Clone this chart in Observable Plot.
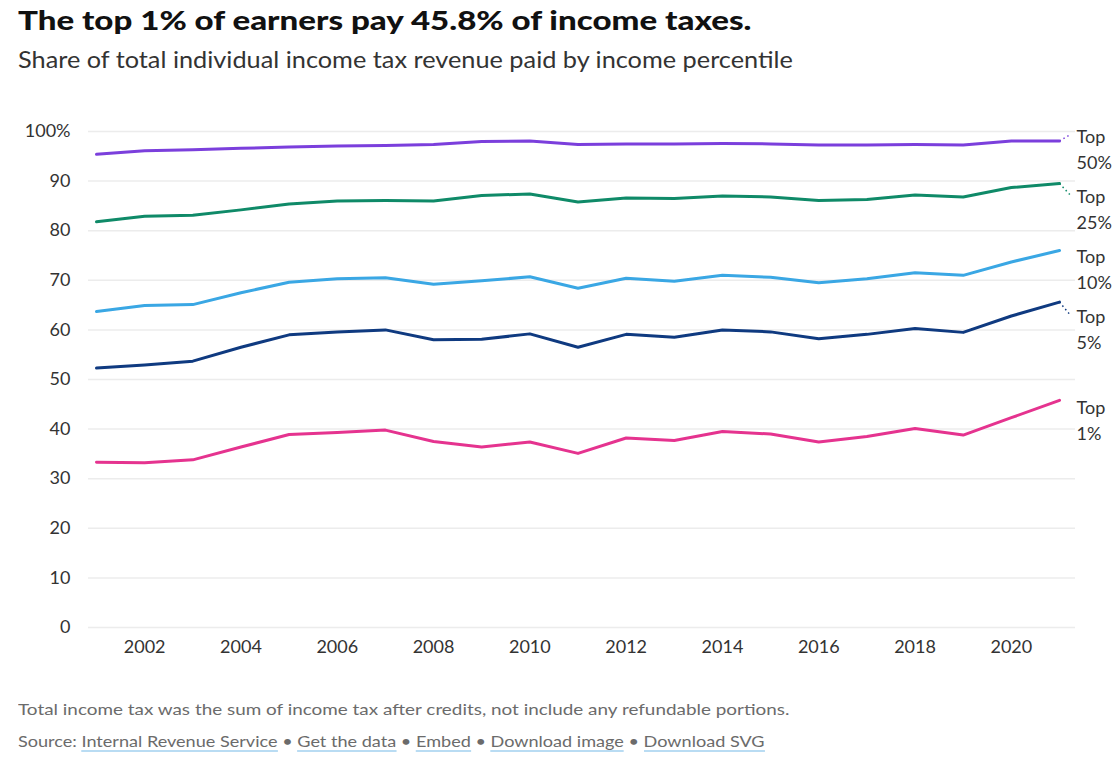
<!DOCTYPE html>
<html>
<head>
<meta charset="utf-8">
<script src="https://cdn.jsdelivr.net/npm/d3@7"></script>
<script src="https://cdn.jsdelivr.net/npm/@observablehq/plot@0.6"></script>
<style>
  html, body { margin: 0; padding: 0; background: #fff; }
  body { width: 1120px; height: 762px; position: relative; overflow: hidden; font-family: Lato, "Open Sans", sans-serif; }
  .line { position: absolute; left: 18px; white-space: nowrap; transform-origin: 0 50%; }
  #title { top: 3px; font-size: 27px; font-weight: 900; color: #111; transform: scaleX(1.225); }
  #subtitle { top: 45px; font-size: 23px; color: #333; transform: scaleX(1.10); }
  #chart { position: absolute; left: 0; top: 95px; }
  #note { top: 699px; font-size: 16px; color: #6b6b6b; transform: scaleX(1.18); }
  #source { top: 731px; font-size: 16px; color: #6b6b6b; transform: scaleX(1.13); }
  #source a { color: #6b6b6b; text-decoration: none; border-bottom: 2px solid #b9dcf3; }
</style>
</head>
<body>
<div id="title" class="line">The top 1% of earners pay 45.8% of income taxes.</div>
<div id="subtitle" class="line">Share of total individual income tax revenue paid by income percentile</div>
<div id="chart"></div>
<div id="note" class="line">Total income tax was the sum of income tax after credits, not include any refundable portions.</div>
<div id="source" class="line">Source: <a>Internal Revenue Service</a> • <a>Get the data</a> • <a>Embed</a> • <a>Download image</a> • <a>Download SVG</a></div>
<script>
const years = [2001, 2002, 2003, 2004, 2005, 2006, 2007, 2008, 2009, 2010, 2011, 2012, 2013, 2014, 2015, 2016, 2017, 2018, 2019, 2020, 2021];
const top50 = [95.4, 96.1, 96.3, 96.6, 96.9, 97.1, 97.2, 97.4, 98.0, 98.1, 97.4, 97.5, 97.5, 97.6, 97.5, 97.3, 97.3, 97.4, 97.3, 98.1, 98.1];
const top25 = [81.8, 82.9, 83.1, 84.2, 85.4, 86.0, 86.1, 86.0, 87.1, 87.4, 85.8, 86.6, 86.5, 87.0, 86.8, 86.1, 86.3, 87.2, 86.8, 88.7, 89.5];
const top10 = [63.7, 64.9, 65.1, 67.5, 69.6, 70.3, 70.5, 69.2, 69.9, 70.7, 68.4, 70.4, 69.8, 71.0, 70.6, 69.5, 70.3, 71.5, 71.0, 73.7, 76.0];
const top5  = [52.3, 52.9, 53.7, 56.5, 59.0, 59.6, 60.0, 58.0, 58.1, 59.2, 56.5, 59.1, 58.5, 60.0, 59.6, 58.2, 59.1, 60.3, 59.5, 62.8, 65.6];
const top1  = [33.3, 33.2, 33.8, 36.4, 38.9, 39.3, 39.8, 37.5, 36.4, 37.4, 35.1, 38.2, 37.7, 39.5, 39.0, 37.4, 38.5, 40.1, 38.8, 42.3, 45.8];
const seriesNames = ["Top 50%", "Top 25%", "Top 10%", "Top 5%", "Top 1%"];
const seriesLabels = ["Top\n50%", "Top\n25%", "Top\n10%", "Top\n5%", "Top\n1%"];
const seriesColors = ["#7b3fdc", "#0f8a68", "#3aa7e4", "#0f3a80", "#e5338f"];
const xTicks = [2002, 2004, 2006, 2008, 2010, 2012, 2014, 2016, 2018, 2020];
const yTicks = [0, 10, 20, 30, 40, 50, 60, 70, 80, 90, 100];

const seriesValues = [top50, top25, top10, top5, top1];
const rows = [];
seriesNames.forEach((name, i) => {
  years.forEach((yr, j) => rows.push({series: name, year: yr, value: seriesValues[i][j]}));
});

const W = 1120, H = 575, mT = 36, mB = 43, mL = 96, mR = 61;
const yPix = d3.scaleLinear([0, 100], [H - mB, mT]);
const lastYear = years[years.length - 1];

// dodge labels in pixel space
const labels = seriesNames.map((name, i) => {
  const end = seriesValues[i][seriesValues[i].length - 1];
  return {series: name, label: seriesLabels[i], end, p: yPix(end) + 18};
}).sort((a, b) => a.p - b.p);
const gap = 60;
for (let it = 0; it < 500; it++) {
  for (let k = 1; k < labels.length; k++) {
    const ov = labels[k - 1].p + gap - labels[k].p;
    if (ov > 0) { labels[k - 1].p -= ov / 2; labels[k].p += ov / 2; }
  }
}
labels.forEach(d => {
  d.labelY = yPix.invert(d.p);
  d.leadY = yPix.invert(d.p - 12.5);
  d.needLead = Math.abs((d.p - 12.5) - (yPix(d.end) + 5)) > 6;
});
const leaders = labels.filter(d => d.needLead);

const color = {domain: seriesNames, range: seriesColors};

const chart = Plot.plot({
  width: W, height: H,
  marginTop: mT, marginBottom: mB, marginLeft: mL, marginRight: mR,
  style: {fontFamily: "Lato, 'Open Sans', sans-serif", fontSize: "18px", color: "#333", background: "transparent"},
  x: {domain: [years[0], lastYear], label: null},
  y: {domain: [0, 100], label: null},
  color,
  marks: [
    Plot.ruleY(yTicks, {stroke: "#ececec", strokeWidth: 1.5, insetLeft: -8, insetRight: -16}),
    Plot.axisY({ticks: yTicks, tickSize: 0, tickPadding: 26, tickFormat: d => d === 100 ? "100%" : String(d), fontSize: 18, fill: "#333"}),
    Plot.axisX({ticks: xTicks, tickSize: 0, tickPadding: 13, tickFormat: d => String(d), fontSize: 18, fill: "#333"}),
    Plot.line(rows, {x: "year", y: "value", z: "series", stroke: "series", strokeWidth: 3, curve: "linear"}),
    Plot.link(leaders, {x1: lastYear, y1: "end", x2: lastYear + 0.22, y2: "leadY", stroke: "series", strokeWidth: 1.5, strokeDasharray: "1.5,3"}),
    Plot.text(labels, {x: lastYear, y: "labelY", text: "label", dx: 17, textAnchor: "start", lineAnchor: "middle", lineHeight: 1.45, fontSize: 18, fill: "#333"})
  ]
});
document.getElementById("chart").appendChild(chart);
</script>
</body>
</html>
